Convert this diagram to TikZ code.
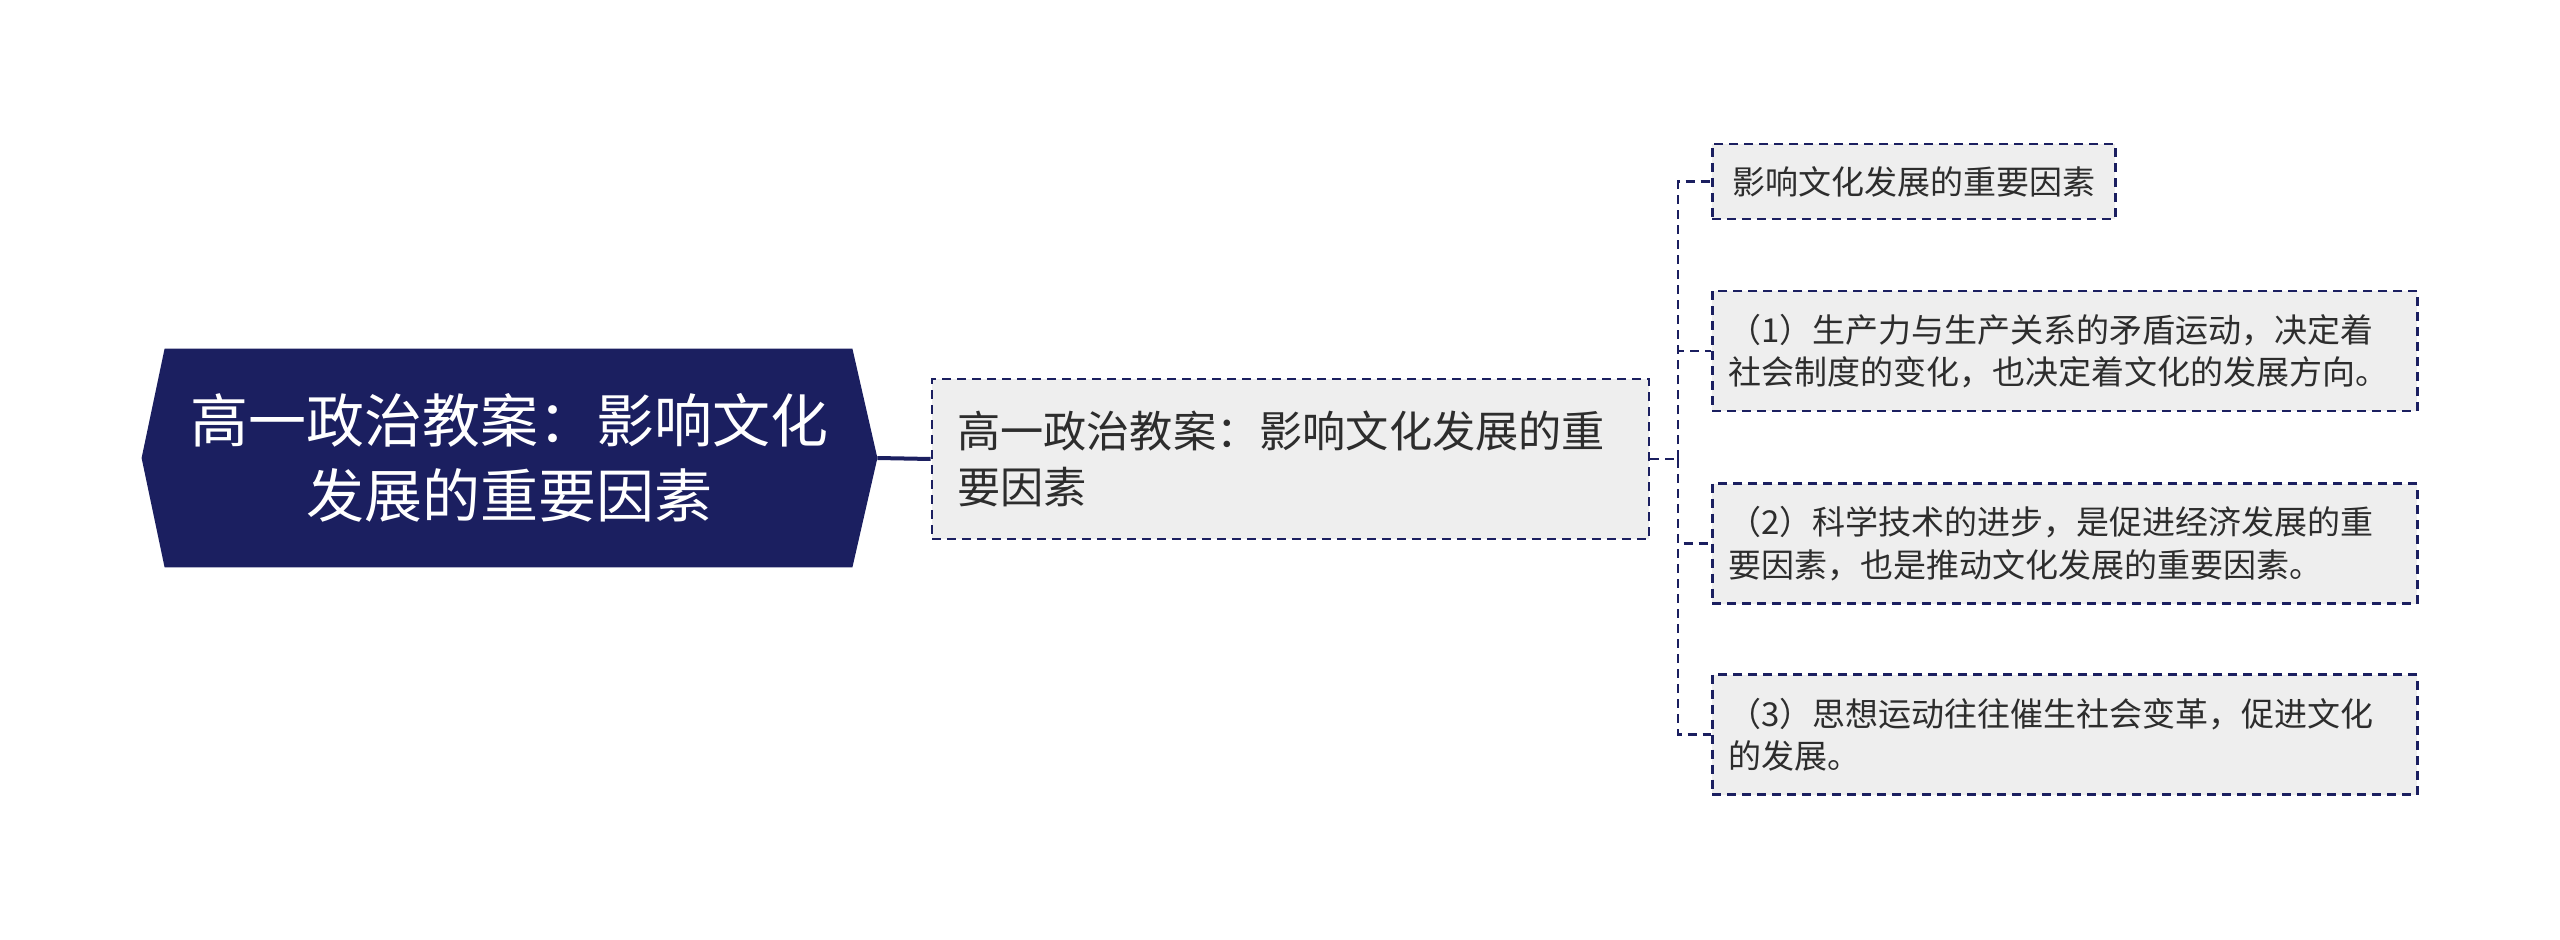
\documentclass[tikz,border=0pt]{standalone}
\usepackage{fontspec}
\setmainfont{Noto Sans CJK SC}
\usepackage{tikz}
\usetikzlibrary{backgrounds}
\definecolor{navy}{RGB}{27,31,96}
\definecolor{boxgray}{RGB}{238,238,238}
\definecolor{txtgray}{RGB}{45,45,45}

\begin{document}
\begin{tikzpicture}[x=0.5pt, y=0.5pt,
  rootbox/.style={minimum width=367.5pt, minimum height=109pt, inner sep=0pt, align=center, text=white, font=\fontsize{29}{37.5}\selectfont},
  dashline/.style={draw=navy, line width=1.3pt, dash pattern=on 4.5pt off 3pt},
  midbox/.style={dashline, fill=boxgray, text=txtgray, minimum height=80pt, inner xsep=12.5pt, text width=333.5pt, align=left, font=\fontsize{21.6}{27.8}\selectfont},
  leafbox/.style={dashline, fill=boxgray, text=txtgray, anchor=west, minimum height=60pt, inner xsep=8pt, text width=336.5pt, align=left, font=\fontsize{16.5}{21.2}\selectfont}]
\useasboundingbox (0, 0) rectangle (2560, 939);
\path (509.5, 481) node (root)[rootbox] {高一政治教案：影响文化\\发展的重要因素}
(1290.5, 480) node (mid)[midbox] {高一政治教案：影响文化发展的重\\要因素}
(1711, 757.5) node (b1)[leafbox, text width=, minimum width=201.5pt, minimum height=37.5pt] {影响文化发展的重要因素}
(1711, 588) node (b2)[leafbox] {（1）生产力与生产关系的矛盾运动，决定着\\社会制度的变化，也决定着文化的发展方向。}
(1711, 395.5) node (b3)[leafbox] {（2）科学技术的进步，是促进经济发展的重\\要因素，也是推动文化发展的重要因素。}
(1711, 204.5) node (b4)[leafbox] {（3）思想运动往往催生社会变革，促进文化\\的发展。};
\coordinate (trunk) at (1678, 480);
\begin{scope}[on background layer]
\fill[navy] (root.west) -- ([xshift=11.5pt]root.north west) -- ([xshift=-12.5pt]root.north east) -- (root.east) -- ([xshift=-12.5pt]root.south east) -- ([xshift=11.5pt]root.south west) -- cycle;
\end{scope}
\draw[navy, line width=2pt] (root.east) -- (mid.west);
\draw[dashline] (mid.east) -- (trunk);
\draw[dashline] (trunk) |- (b1.west);
\draw[dashline] (trunk) |- (b2.west);
\draw[dashline] (trunk) |- (b3.west);
\draw[dashline] (trunk) |- (b4.west);
\end{tikzpicture}
\end{document}
